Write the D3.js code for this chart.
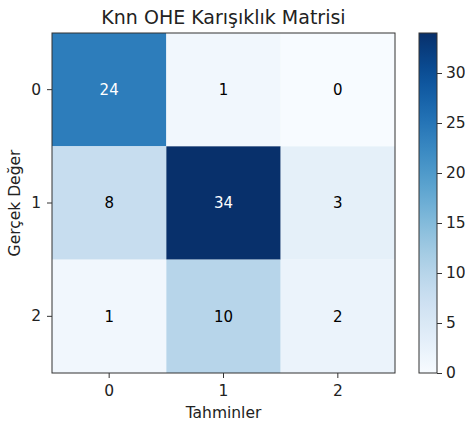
<!DOCTYPE html>
<html>
<head>
<meta charset="utf-8">
<script src="https://cdn.jsdelivr.net/npm/d3@7"></script>
<style>
  body { margin: 0; background: #fff; }
  text { font-family: "DejaVu Sans", sans-serif; fill: #222; }
</style>
</head>
<body>
<div id="chart"></div>
<script>
// confusion matrix values, rows = actual, cols = predicted
var classes = ["0", "1", "2"];
var row0 = [24, 1, 0];
var row1 = [8, 34, 3];
var row2 = [1, 10, 2];
var cbTicks = [0, 5, 10, 15, 20, 25, 30];

var matrix = [row0, row1, row2];
var w = 465, h = 425,
    pLeft = 52, pRight = 395, pTop = 33, pBottom = 373,
    vmax = d3.max(matrix, function(r) { return d3.max(r); });

var svg = d3.select("#chart").append("svg")
    .attr("width", w)
    .attr("height", h);

var x = d3.scaleBand().domain(classes).range([pLeft, pRight]);
var y = d3.scaleBand().domain(classes).range([pTop, pBottom]);
var color = d3.scaleSequential(d3.interpolateBlues).domain([0, vmax]);

var cells = [];
matrix.forEach(function(r, i) {
  r.forEach(function(v, j) { cells.push({ r: classes[i], c: classes[j], v: v }); });
});

svg.selectAll("rect.cell")
  .data(cells)
  .enter().append("rect")
    .attr("class", "cell")
    .attr("x", function(d) { return x(d.c); })
    .attr("y", function(d) { return y(d.r); })
    .attr("width", x.bandwidth())
    .attr("height", y.bandwidth())
    .attr("fill", function(d) { return color(d.v); });

svg.selectAll("text.val")
  .data(cells)
  .enter().append("text")
    .attr("class", "val")
    .attr("x", function(d) { return x(d.c) + x.bandwidth() / 2; })
    .attr("y", function(d) { return y(d.r) + y.bandwidth() / 2; })
    .attr("dy", "0.36em")
    .attr("text-anchor", "middle")
    .style("font-size", "15px")
    .style("fill", function(d) { return d.v > vmax / 2 ? "#fff" : "#000"; })
    .text(function(d) { return d.v; });

// frame
svg.append("rect")
  .attr("x", pLeft).attr("y", pTop)
  .attr("width", pRight - pLeft).attr("height", pBottom - pTop)
  .attr("fill", "none").attr("stroke", "#333").attr("stroke-width", 1);

var xAxis = svg.append("g")
  .attr("transform", "translate(0," + pBottom + ")")
  .call(d3.axisBottom(x).tickSize(5).tickPadding(7));
var yAxis = svg.append("g")
  .attr("transform", "translate(" + pLeft + ",0)")
  .call(d3.axisLeft(y).tickSize(5).tickPadding(6));
[xAxis, yAxis].forEach(function(a) {
  a.select(".domain").remove();
  a.selectAll("line").attr("stroke", "#333");
  a.selectAll("text").style("font-size", "15.5px").style("font-family", "DejaVu Sans").attr("fill", "#222");
});

svg.append("text")
  .attr("x", (pLeft + pRight) / 2).attr("y", 24)
  .attr("text-anchor", "middle")
  .style("font-size", "19px")
  .text("Knn OHE Karışıklık Matrisi");

svg.append("text")
  .attr("x", (pLeft + pRight) / 2).attr("y", 418)
  .attr("text-anchor", "middle")
  .style("font-size", "15.5px")
  .text("Tahminler");

svg.append("text")
  .attr("transform", "translate(20," + (pTop + pBottom) / 2 + ") rotate(-90)")
  .attr("text-anchor", "middle")
  .style("font-size", "15.5px")
  .text("Gerçek Değer");

// colorbar
var cbX = 419, cbW = 18;
var cbScale = d3.scaleLinear().domain([0, vmax]).range([pBottom, pTop]);
var defs = svg.append("defs");
var grad = defs.append("linearGradient")
  .attr("id", "cbgrad").attr("x1", 0).attr("y1", 1).attr("x2", 0).attr("y2", 0);
d3.range(0, 1.0001, 0.05).forEach(function(t) {
  grad.append("stop").attr("offset", t).attr("stop-color", d3.interpolateBlues(t));
});
svg.append("rect")
  .attr("x", cbX).attr("y", pTop)
  .attr("width", cbW).attr("height", pBottom - pTop)
  .attr("fill", "url(#cbgrad)")
  .attr("stroke", "#333").attr("stroke-width", 1);

var cbAxis = svg.append("g")
  .attr("transform", "translate(" + (cbX + cbW) + ",0)")
  .call(d3.axisRight(cbScale).tickValues(cbTicks).tickSize(5).tickPadding(4));
cbAxis.select(".domain").remove();
cbAxis.selectAll("line").attr("stroke", "#333");
cbAxis.selectAll("text").style("font-size", "15.5px").style("font-family", "DejaVu Sans").attr("fill", "#222");
</script>
</body>
</html>
